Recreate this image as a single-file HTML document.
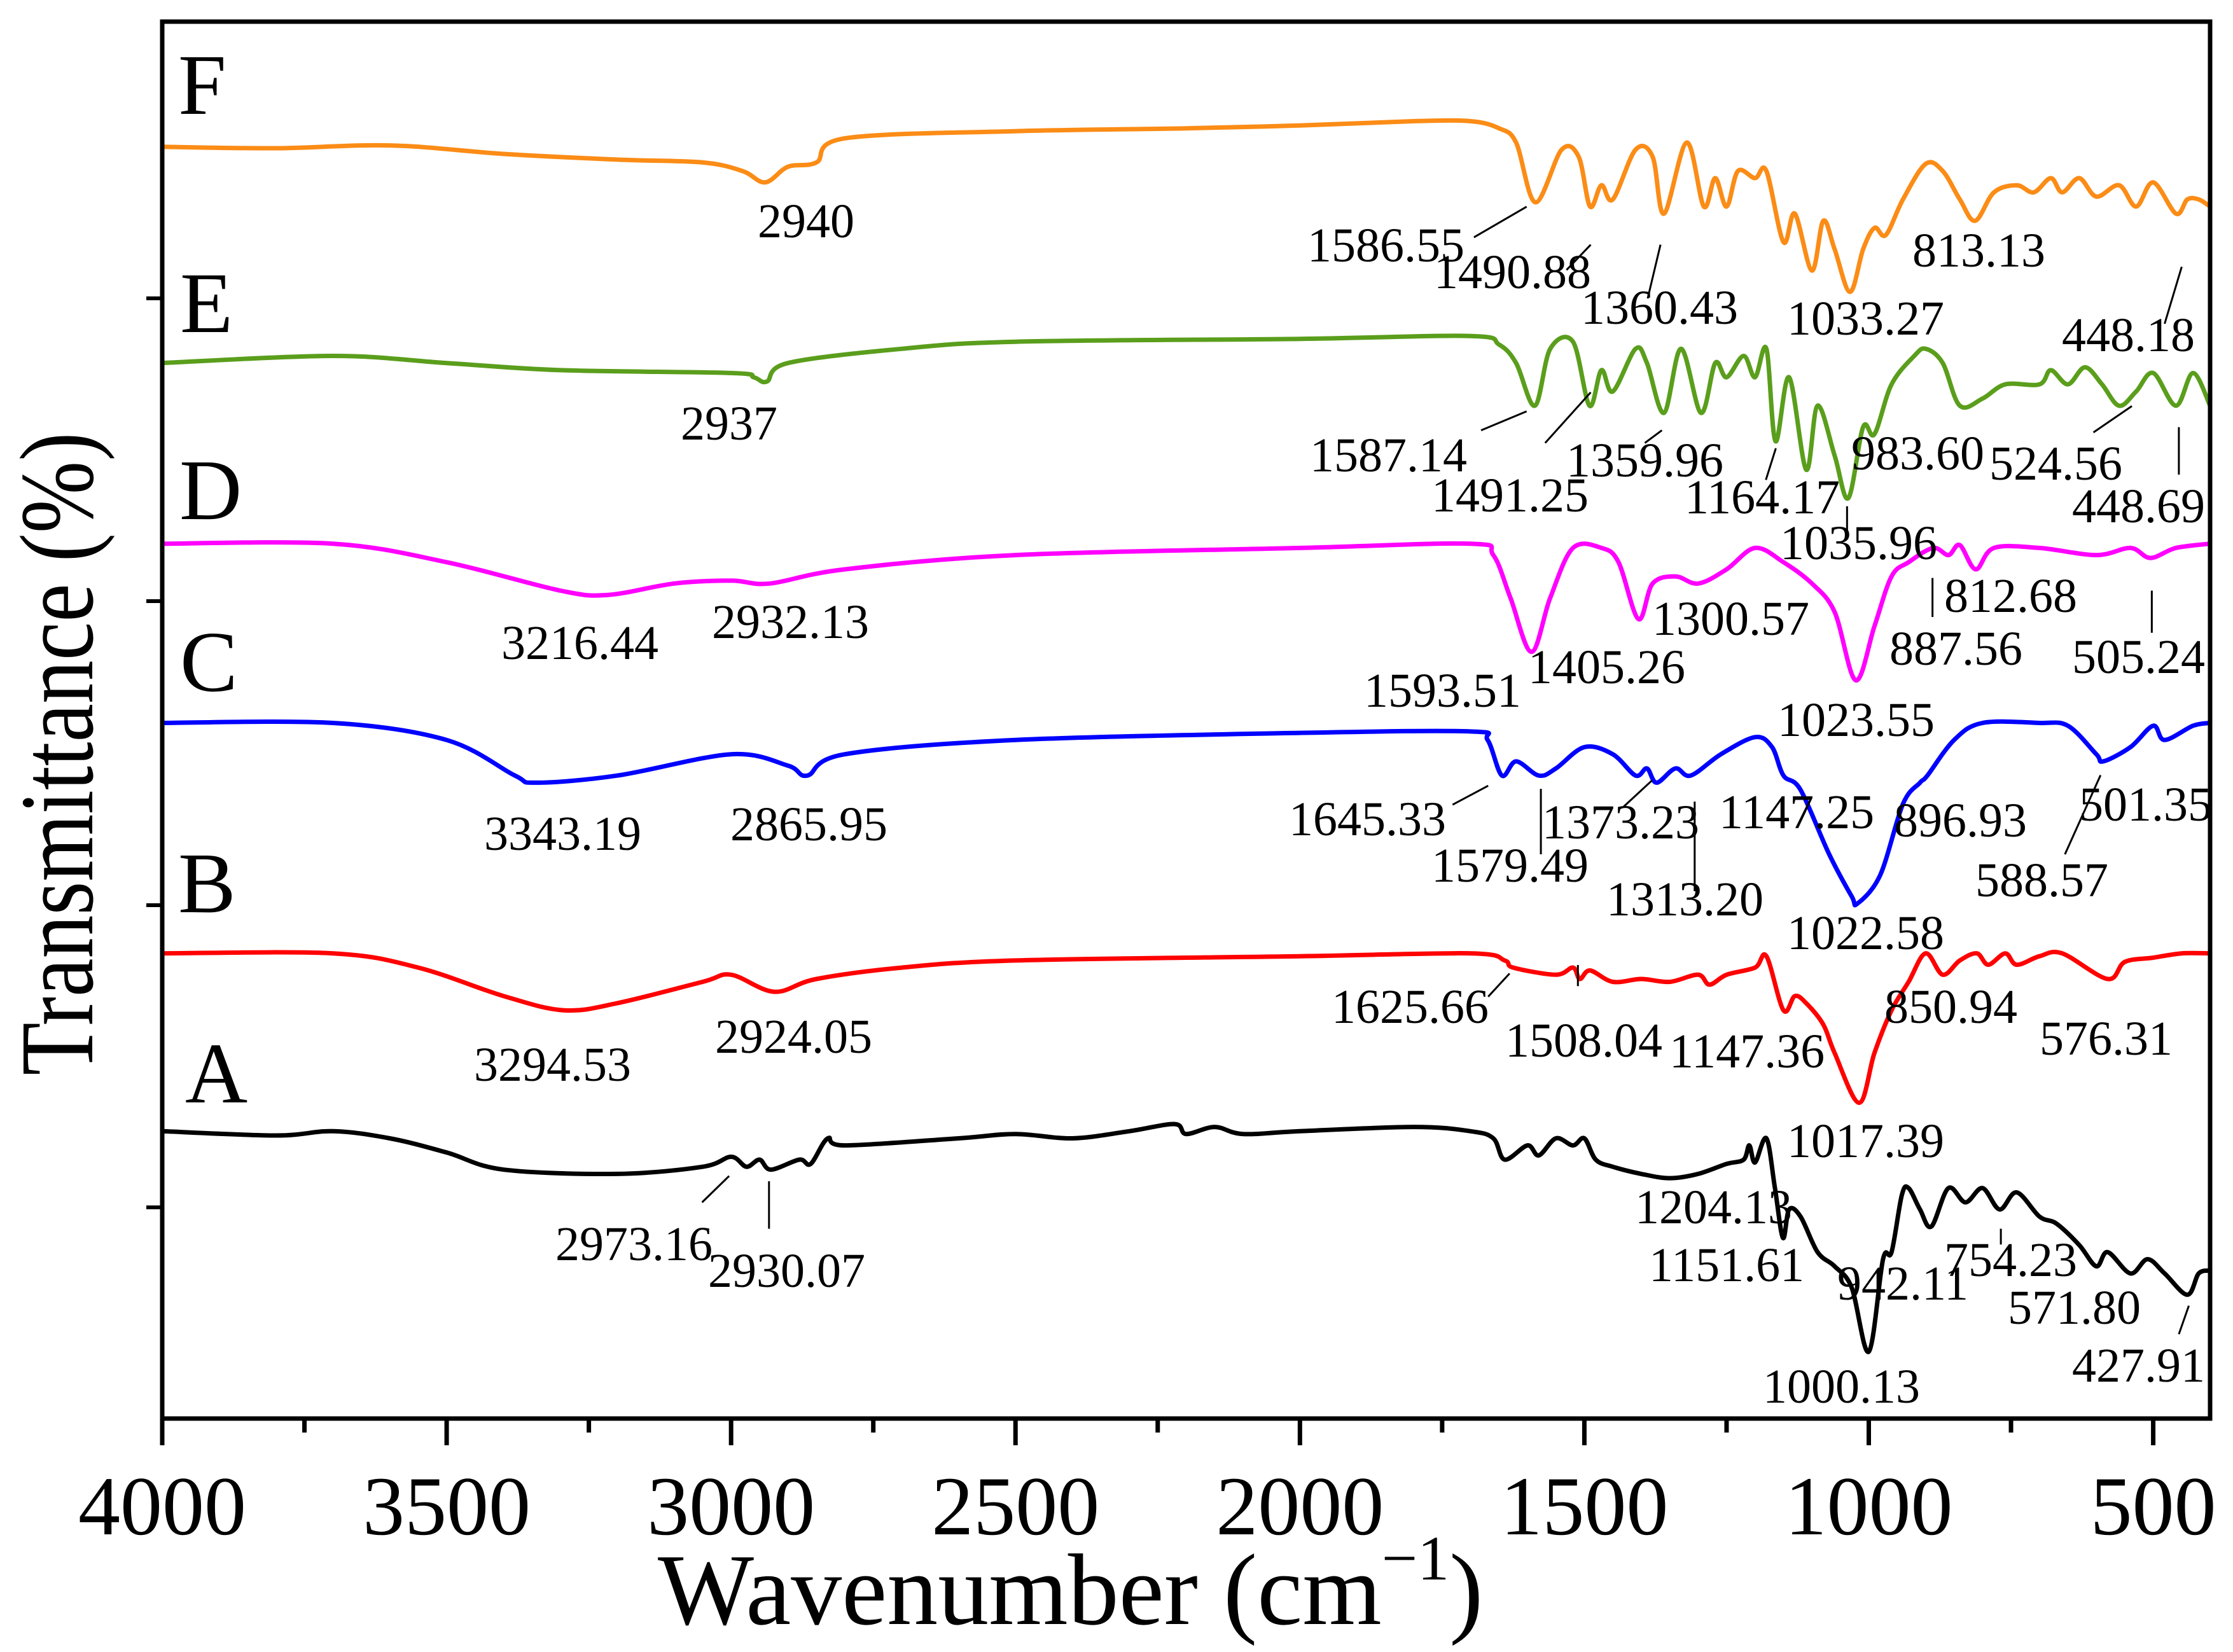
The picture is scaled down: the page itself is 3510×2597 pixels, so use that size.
<!DOCTYPE html>
<html><head><meta charset="utf-8"><style>
html,body{margin:0;padding:0;background:#fff;}
svg{display:block;font-family:"Liberation Serif",serif;}
</style></head><body>
<svg id="chart" width="3510" height="2597" viewBox="0 0 3510 2597" xmlns="http://www.w3.org/2000/svg">
<rect x="0" y="0" width="3510" height="2597" fill="#fff"/>
<g id="series"></g>
<g id="annot"></g>
<g id="axes"></g>
</svg>
<script>
const xTicks = [4000, 3500, 3000, 2500, 2000, 1500, 1000, 500];
const xTickLabels = ["4000","3500","3000","2500","2000","1500","1000","500"];
const seriesNames = ["F","E","D","C","B","A"];
const seriesF = [[4000,89.7],[3800,89.6],[3600,89.8],[3400,89.2],[3200,88.8],[3050,88.6],[2980,88.0],[2940,87.2],[2900,88.3],[2850,88.6],[2800,90.3],[2500,90.8],[2200,91.0],[2000,91.2],[1800,91.5],[1700,91.5],[1650,91.0],[1620,90.0],[1586,85.8],[1540,89.5],[1510,89.0],[1490,85.5],[1470,87.0],[1450,86.0],[1410,89.5],[1380,89.0],[1360,85.0],[1320,90.0],[1290,85.5],[1270,87.5],[1250,85.5],[1230,88.0],[1200,87.5],[1180,88.0],[1150,83.0],[1130,85.0],[1100,81.0],[1080,84.5],[1060,82.5],[1033,79.5],[1010,82.5],[990,84.0],[970,83.5],[940,86.0],[900,88.5],[870,88.0],[840,86.0],[813,84.5],[780,86.5],[740,87.0],[710,86.5],[680,87.5],[660,86.5],[630,87.5],[600,86.2],[560,87.0],[530,85.5],[500,87.2],[460,85.0],[440,86.0],[420,86.0],[400,85.5]];
const seriesE = [[4000,74.5],[3700,75.0],[3500,74.5],[3300,74.0],[3000,73.8],[2960,73.5],[2937,73.2],[2900,74.5],[2700,75.5],[2500,76.0],[2000,76.2],[1700,76.4],[1650,75.8],[1620,74.5],[1587,71.5],[1560,75.5],[1520,76.0],[1491,71.5],[1470,74.0],[1450,72.5],[1410,75.5],[1390,74.5],[1360,71.0],[1330,75.5],[1295,71.0],[1270,74.5],[1250,73.5],[1220,75.0],[1200,73.5],[1180,75.5],[1164,69.0],[1140,73.5],[1110,67.0],[1090,71.5],[1060,68.0],[1036,65.0],[1010,70.0],[990,69.5],[960,73.0],[920,75.0],[900,75.5],[870,74.5],[840,71.5],[800,72.0],[760,73.0],[700,73.0],[680,74.0],[650,73.0],[620,74.2],[590,73.0],[560,71.5],[530,72.5],[500,73.8],[460,71.5],[430,73.8],[400,71.5]];
const seriesD = [[4000,61.8],[3700,61.8],[3500,60.5],[3300,58.5],[3216,58.2],[3100,59.0],[3000,59.2],[2932,59.0],[2800,60.0],[2500,61.0],[2000,61.5],[1700,61.8],[1660,61.0],[1630,58.0],[1593,54.2],[1560,58.0],[1520,61.5],[1470,61.5],[1440,60.5],[1405,56.5],[1380,59.0],[1340,59.5],[1300,59.0],[1250,60.0],[1200,61.5],[1150,60.5],[1100,59.0],[1060,57.0],[1023,52.2],[990,56.0],[960,59.5],[930,60.5],[887,61.5],[860,61.0],[840,61.7],[812,60.0],[780,61.5],[700,61.5],[600,61.0],[540,61.5],[505,60.8],[460,61.5],[400,61.8]];
const seriesC = [[4000,49.2],[3700,49.2],[3500,48.0],[3380,45.5],[3343,45.0],[3200,45.5],[3000,47.0],[2900,46.2],[2866,45.5],[2800,47.0],[2500,48.0],[2000,48.5],[1700,48.6],[1670,48.0],[1645,45.5],[1620,46.5],[1580,45.5],[1550,46.0],[1500,47.5],[1450,47.0],[1410,45.5],[1390,46.0],[1373,45.0],[1340,46.0],[1313,45.5],[1260,47.0],[1200,48.2],[1170,47.5],[1150,45.5],[1120,44.5],[1070,40.0],[1030,37.0],[1020,36.5],[980,38.5],[940,43.5],[910,45.0],[897,45.5],[850,48.0],[800,49.2],[700,49.2],[650,49.0],[600,47.0],[588,46.5],[540,47.5],[500,49.0],[480,48.0],[430,49.0],[400,49.2]];
const seriesB = [[4000,33.0],[3700,33.0],[3550,32.0],[3400,30.0],[3294,29.0],[3200,29.5],[3050,31.0],[3000,31.5],[2924,30.3],[2850,31.2],[2700,32.0],[2500,32.5],[2000,32.8],[1700,33.0],[1640,32.5],[1625,32.0],[1550,31.5],[1520,32.0],[1508,31.2],[1490,31.8],[1450,31.0],[1400,31.2],[1350,31.0],[1300,31.5],[1280,30.8],[1250,31.5],[1200,32.0],[1180,32.8],[1150,29.0],[1130,30.0],[1110,29.5],[1080,28.0],[1060,26.0],[1017,22.5],[990,26.0],[960,29.0],[930,31.0],[900,33.0],[870,31.5],[840,32.5],[810,33.0],[790,32.2],[760,33.0],[740,32.2],[700,32.8],[660,33.0],[580,31.2],[550,32.4],[500,32.7],[450,33.0],[400,33.0]];
const seriesA = [[4000,20.5],[3800,20.2],[3700,20.5],[3600,20.0],[3500,19.0],[3400,17.8],[3200,17.5],[3050,18.0],[3000,18.7],[2973,18.0],[2950,18.5],[2930,17.8],[2880,18.5],[2860,18.2],[2830,20.0],[2800,19.5],[2600,20.0],[2500,20.3],[2400,20.0],[2300,20.5],[2220,21.0],[2200,20.3],[2150,20.8],[2100,20.3],[2000,20.5],[1800,20.8],[1700,20.5],[1660,20.0],[1640,18.5],[1600,19.5],[1580,18.8],[1550,20.0],[1520,19.5],[1500,20.0],[1480,18.5],[1450,18.0],[1400,17.5],[1350,17.2],[1300,17.5],[1250,18.2],[1220,18.5],[1210,19.5],[1200,18.3],[1180,20.0],[1165,16.5],[1151,13.0],[1140,15.0],[1120,14.5],[1090,12.0],[1060,11.0],[1030,9.5],[1000,5.0],[975,11.5],[960,12.0],[942,16.0],[930,16.5],[910,15.0],[890,13.8],[860,16.5],[830,15.5],[800,16.5],[770,15.0],[740,16.2],[700,14.5],[670,14.0],[630,12.5],[600,11.0],[580,12.0],[540,10.5],[510,11.5],[480,10.5],[440,9.0],[420,10.5],[400,10.7]];
const peakLabels = [["2940",532,225],["1586.55",918,248],["1490.88",1007,273],["1360.43",1110,307],["1033.27",1255,317],["813.13",1343,253],["448.18",1448,333],["2937",478,417],["1587.14",920,447],["1491.25",1005,485],["1359.96",1100,452],["1164.17",1183,487],["983.60",1300,445],["524.56",1397,455],["1035.96",1250,530],["448.69",1455,495],["3216.44",352,625],["2932.13",500,605],["1300.57",1160,602],["1405.26",1073,648],["1593.51",958,670],["887.56",1327,630],["812.68",1365,580],["505.24",1455,638],["1023.55",1248,698],["3343.19",340,806],["2865.95",513,797],["1645.33",905,792],["1579.49",1005,836],["1373.23",1083,795],["1313.20",1128,868],["1147.25",1207,785],["896.93",1330,793],["501.35",1460,778],["588.57",1387,850],["1022.58",1255,900],["3294.53",333,1025],["2924.05",502,998],["1625.66",935,970],["1508.04",1057,1002],["1147.36",1172,1012],["850.94",1323,970],["576.31",1432,1000],["1017.39",1255,1097],["2973.16",390,1195],["2930.07",497,1220],["1204.13",1148,1160],["1151.61",1158,1215],["942.11",1290,1232],["754.23",1365,1210],["571.80",1410,1255],["1000.13",1238,1330],["427.91",1455,1310]];
const leaders = [[1035,225,1072,196],[1100,256,1117,232],[1157,283,1166,232],[1520,307,1532,253],[1040,408,1072,390],[1085,420,1117,372],[1155,420,1167,408],[1240,455,1247,425],[1297,506,1297,480],[1470,410,1497,385],[1530,450,1530,405],[1357,585,1357,548],[1511,600,1511,560],[1020,763,1045,745],[1082,810,1082,748],[1140,765,1160,740],[1190,845,1190,760],[1450,810,1475,735],[1045,945,1060,923],[1108,935,1108,915],[493,1140,512,1115],[540,1165,540,1120],[1405,1180,1405,1165],[1530,1265,1537,1238]];

const NS = "http://www.w3.org/2000/svg";
const L = 255, R = 3474, T = 34, B = 2230;
function xs(w){ return L + (4000 - w) * (R - L) / 3600; }
function ys(t){ return T + (98.5 - t) * (B - T) / (98.5 - 0.3); }
function mk(tag, attrs, parent){ const e = document.createElementNS(NS, tag); for (const k in attrs) e.setAttribute(k, attrs[k]); parent.appendChild(e); return e; }
function smoothPath(pts){
  let d = "M" + pts[0][0].toFixed(1) + " " + pts[0][1].toFixed(1);
  for (let i = 0; i < pts.length - 1; i++) {
    const p0 = pts[Math.max(0, i - 1)], p1 = pts[i], p2 = pts[i + 1], p3 = pts[Math.min(pts.length - 1, i + 2)];
    const c1x = p1[0] + (p2[0] - p0[0]) / 6, c1y = p1[1] + (p2[1] - p0[1]) / 6;
    const c2x = p2[0] - (p3[0] - p1[0]) / 6, c2y = p2[1] - (p3[1] - p1[1]) / 6;
    d += " C" + c1x.toFixed(1) + " " + c1y.toFixed(1) + " " + c2x.toFixed(1) + " " + c2y.toFixed(1) + " " + p2[0].toFixed(1) + " " + p2[1].toFixed(1);
  }
  return d;
}

const sg = document.getElementById('series');
const allSeries = [seriesF, seriesE, seriesD, seriesC, seriesB, seriesA];
const colors = ["#fb8c16", "#5a9e1c", "#ff00ff", "#0000ff", "#ff0000", "#000000"];
allSeries.forEach((s, i) => {
  const pts = s.map(p => [xs(p[0]), ys(p[1])]);
  const p = mk('path', {d: smoothPath(pts), fill: "none", stroke: colors[i], "stroke-width": 7, "stroke-linejoin": "round"}, sg);
  
  
});
const letterY = [179, 522, 816, 1086, 1434, 1733];
const letterX = [280, 283, 282, 283, 280, 291];
seriesNames.forEach((n, i) => {
  const t = mk('text', {x: letterX[i], y: letterY[i], "font-size": 136}, sg);
  t.textContent = n;
  
  
});

const ag = document.getElementById('annot');
const fx = 2.2385, fy = 1.658;
peakLabels.forEach(p => {
  const t = mk('text', {x: (p[1] * fx).toFixed(0), y: (p[2] * fy).toFixed(0), "font-size": 76}, ag);
  t.textContent = p[0];
  
  
});
leaders.forEach(l => {
  const e = mk('line', {x1: l[0] * fx, y1: l[1] * fy, x2: l[2] * fx, y2: l[3] * fy, stroke: "#000", "stroke-width": 3}, ag);
  
  
});

const ax = document.getElementById('axes');
const frame = mk('rect', {x: L, y: T, width: R - L, height: B - T, fill: "none", stroke: "#000", "stroke-width": 7}, ax);


for (let w = 4000; w >= 400; w -= 250) {
  const major = (w % 500 === 0);
  const tk = mk('line', {x1: xs(w), x2: xs(w), y1: B, y2: B + (major ? 42 : 22), stroke: "#000", "stroke-width": 7}, ax);
  
  
}
xTicks.forEach((w, i) => {
  const t = mk('text', {x: xs(w), y: 2412, "font-size": 132, "text-anchor": "middle"}, ax);
  t.textContent = xTickLabels[i];
  
  
});
[469, 945, 1423, 1898].forEach(y => {
  const tk = mk('line', {x1: L - 25, x2: L, y1: y, y2: y, stroke: "#000", "stroke-width": 6}, ax);
  
  
});
const xt = mk('text', {x: 1034, y: 2553, "font-size": 160}, ax);


xt.innerHTML = 'Wavenumber (cm<tspan font-size="100" dy="-70">−1</tspan><tspan dy="70">)</tspan>';
const yt = mk('text', {x: 0, y: 0, "font-size": 165, "text-anchor": "middle", transform: "translate(145,1185) rotate(-90)", textLength: 1011, lengthAdjust: "spacingAndGlyphs"}, ax);
yt.textContent = 'Transmittance (%)';


</script>
</body></html>
